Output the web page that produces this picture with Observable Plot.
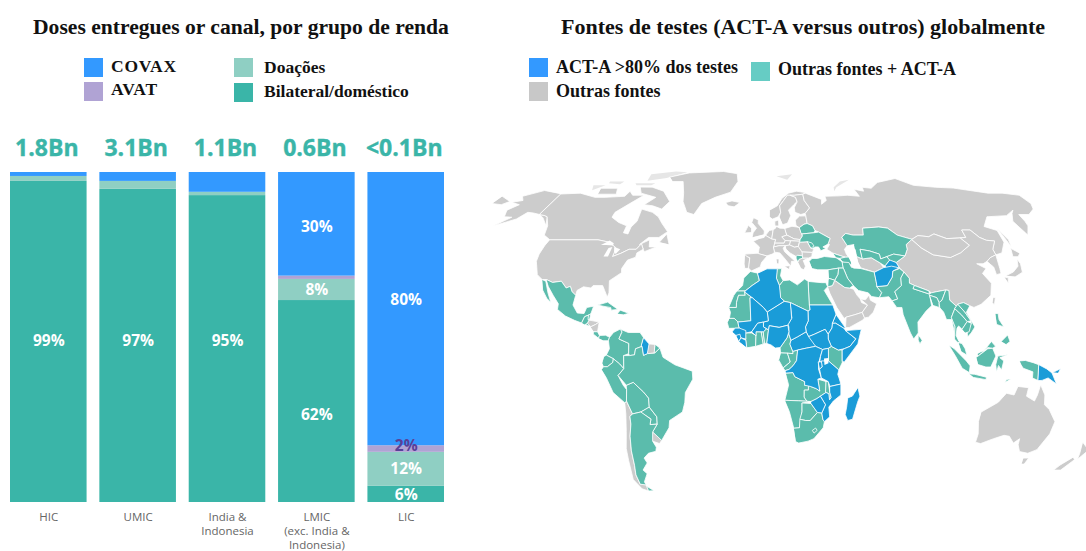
<!DOCTYPE html>
<html><head><meta charset="utf-8">
<script src="https://cdn.jsdelivr.net/npm/d3@7"></script>
<script src="https://cdn.jsdelivr.net/npm/@observablehq/plot@0.6"></script>
<style>
html,body{margin:0;padding:0;background:#fff}
#root{position:relative;width:1086px;height:551px;overflow:hidden;font-family:"Liberation Serif",serif;font-weight:bold;color:#111}
#root>div{position:absolute;white-space:nowrap}
.t{line-height:24px}
.l{line-height:20px}
.s{width:19px;height:19px}
#bars,#map{line-height:0}
</style></head><body><div id="root"></div>
<script>
// ---- Bars ----
const groups = ["HIC","UMIC","India &\nIndonesia","LMIC\n(exc. India &\nIndonesia)","LIC"];
const totals = ["1.8Bn","3.1Bn","1.1Bn","0.6Bn","<0.1Bn"];
const channels = ["Bilateral/doméstico","Doações","AVAT","COVAX"];
const channelColors = ["#3ab5a8","#8fcfc3","#b0a3d4","#3399ff"];
const bilateral = [97.3,94.9,93,61.2,4.9];
const doacoes   = [1.5,2.4,1,6.4,10.3];
const avat      = [0,0,0,1,2];
const covax     = [1.2,2.7,6,31.4,82.8];
const shareLabels  = ["99%","97%","95%","62%","8%","30%","6%","12%","2%","80%"];
const shareGroups  = [0,1,2,3,3,3,4,4,4,4];
const shareHeights = [48.8,49,49,26.4,64.5,83.6,2.4,10,17,61.5];

// ---- Map: outlines as flat lists of longitude, latitude ----
const grayAmericas = [
[-141,69.6,-156,71.3,-166,68.5,-162,66.5,-168,65.6,-161,64.5,-165,62,-162,59,-157,58.8,-163,55,-153,58,-150,61,-146,60.7,-141,60,-137,58.5,-131,55,-135,59,-137,59.5,-141,60],
[-180,68.5,-170,66,-173,64.5,-180,65],
[-141,69.6,-128,70,-115,68,-108,68,-95,68.5,-94,71,-90,69,-82,69,-88,65,-94,61,-94,58.8,-88,56.5,-82,55,-82,52,-79,51.5,-79,54.5,-77,57,-78,62.5,-70,61,-65,59,-61,56,-56,52.5,-60,50,-66,50,-70,47,-65,49,-64,46,-60,46,-66,44,-67,45,-69,47.3,-71,45,-75,45,-79,43.3,-83,42,-82.5,45.5,-88,48,-95,49,-123,49,-128,51,-130,55,-135,59,-137,59.5,-141,60],
[-80,73,-70,71,-62,66,-65,62.5,-72,64,-78,64.5,-73,68,-85,70,-89,73],
[-117,72.5,-105,72.5,-102,69.5,-115,69.5],[-59,48,-56,51.5,-53,47],
[-123,49,-95,49,-88,48,-82.5,45.5,-83,42,-79,43.3,-75,45,-71,45,-69,47.3,-67,45,-70,43.5,-70,41.7,-74,40.5,-76,37,-75.5,35.3,-81,32,-80,27,-80.5,25.2,-82.5,28,-84,30,-89,30,-90,29,-94,29.5,-97,28,-97.2,26,-99.5,27.5,-101,29.7,-103,29,-106.5,31.8,-111,31.3,-114.8,32.5,-117.1,32.5,-120.5,34.5,-124,40,-124.5,43,-124,46.5],
[-89.3,14.4,-88.5,15.8,-83.2,15,-85,14,-87.5,13],
[-87.5,13,-85,14,-83.2,15,-83.7,11,-85.7,11],
[-57.2,6,-54,5.8,-54.4,2.2,-58,2],
[-57.6,-30.2,-53.5,-33.7,-54.9,-35,-58.4,-34],
[-70.4,-18.3,-69.5,-17.5,-67,-22.8,-68.5,-24,-68.5,-27,-70,-32,-71,-38,-71.5,-44,-72.5,-48,-72,-52,-68.6,-52.3,-68.6,-54.9,-72,-54,-75,-50,-74,-42,-73.5,-37,-71.5,-30,-70.5,-23],
[-73,78.5,-60,81,-32,82,-20,80.5,-18,76,-22,70.5,-32,68,-40,65,-43,60,-48,61,-53,66,-55,70,-60,76,-68,76]
];
const faintArctic = [
[-90,80,-72,82,-62,81.5,-75,78,-88,76.5],[-125,74,-116,74,-122,71.5],[-95,75,-80,75,-82,74,-93,74],[-116,76,-105,76,-106,74.5,-115,75],[12,79,25,80,20,77],[52,71,55,73,68,77,60,76,53,73]
];
const grayEurope = [
[-24,65.5,-20,66.3,-14.5,65.5,-18,63.5,-22,64],[-10,52,-8,55.2,-6,54,-6,52.2],
[-5.5,50,1.5,51.3,1.7,52.8,-2,56,-2,57.6,-5,58.6,-6,56.5,-3,54,-5,52],
[5,59,7,58,10.5,59,12.3,61,12,64,15,66.5,18,69,23,69,29,69.5,31,70.3,25,71,19,70,14,67.5,10.5,64,5.2,62],
[11.2,59,13,55.5,16,56.2,18.5,59.5,17.5,62,21.5,64.5,24,66,23.5,68,20,69,18,69,15,66.5,12,64,12.3,61],
[24,66,21.5,63,21.5,61,25,60,28,60.6,31.5,63,29,66.5,29,69.5,23,69,20,69,23.5,68],
[-9.3,43,-8,42,-6.5,41.5,-7,37.2,-9,37,-9.5,38.8],
[-9.3,43,-1.8,43.4,3.2,42.3,0,39.5,-0.7,37.7,-5.5,36,-7,37.2,-6.5,41.5,-8,42],
[-1.8,43.4,3.2,42.3,6,43,7.5,43.8,7,46,8.2,49,6,49.5,2.5,51,1.5,50,-1.5,49.5,-4.7,48.4,-1.2,46],
[2.5,51,6,49.5,7,53.3,4.7,53],
[6,49.5,8.2,49,7.6,47.6,13,47.6,13.8,48.7,12.1,50.3,15,51,14.2,53.9,11,54,9,54.8,8.5,54,7,53.3],
[8.2,55,8.2,57,10.6,57.6,10.5,55],
[7,46,7.6,47.6,13,47.6,13.8,48.7,17,48.6,16.2,46.8,13.7,46.5,10,46.5],
[7,46,7.5,43.8,10.3,43.5,12.5,41.5,16,38,16.5,40,18.5,40,13,44,12.3,45.5,13.7,46.5,10,46.5],
[12.5,38,15.6,38.2,15,36.7],[8.2,41,9.7,41,9.5,39,8.5,39],
[14.2,53.9,18.5,54.8,23,54.3,24,50.7,22.5,49.1,19,49.4,15,51],
[12.1,50.3,15,51,19,49.4,22.5,49.1,22,48.4,17,48.6,13.8,48.7],
[17,48.6,22,48.4,21,46.2,18.8,45.9,16.2,46.8],
[21,46.2,22,48,26.6,48.2,28.2,45.5,29.6,45,28.6,43.7,22.8,43.9],
[22.8,43.9,28.6,43.7,28,42,26,41.3,22.8,41.3],
[13.7,46.5,16.2,46.8,18.8,45.9,21,46.2,22.8,43.9,22.8,42.3,20,42.5,19.3,42,16,43.5,14,45],
[20,39.7,20.9,40.9,22.8,41.3,26,41.3,23,40.3,24,38,23,36.5,21.5,37],
[21,55.2,23,54.3,26,55.7,28,56,28,59.4,24,59.3,21,57.5]
];
const grayAsia = [
[28,60.6,31.5,63,29,66.5,29,69.5,31,70,41,67,40,64.7,44,66.5,44,68.5,54,68.7,60,69,68,68.5,67,72,73,71,74,73,80,72.5,88,75.5,105,77.7,113,74,128,73,140,72.6,160,70,170,70,180,69,180,65,177,62.5,170,60,163.5,60,163,57,162,55,157,51,155.5,57,160,60.5,163,62,155,59.5,142,59,135,54.7,141,53,140,48,135,43.5,131,42.7,131,45,135,48.5,130.5,48.8,127.5,50,125,53.2,120,53.2,119.5,50,116,49.8,108,49.5,102,51.5,98,50.3,92,50.8,87.5,49.2,80,51,76,54,71,54.5,61,54,60,51,54,51,50,51.7,47,50,49,46.5,47,45,47.5,43,48.5,41.8,46.5,41.7,40,43.4,37,45,39,47,38.2,47.2,40,49.6,34,52.3,32,53,31,55,28,56,28,59.4],
[53,42,56,41,61,41.5,65,39.4,66.5,37.4,61,35.5,54,37.3,53,39.5],
[35,29.5,37.5,30,39,32.2,44,29.2,46.5,29,48.5,28.5,50,26,51.5,24.5,52,23,55,22,52,19,48,18,43.5,17,42.5,16.5,39,21,36,26.5],
[43,12.8,45,12.8,52,15.8,53,16.7,52,19,48,18,43.5,17],
[56.3,26,56.7,24,59.8,22.5,57.7,19,55,17,53,16.7,52,19,55,22,51.5,24.5,54,24.2],
[75,37.3,74,39.5,80,42.2,82.5,45,83,47,87.5,49.2,91,45.5,96,42.7,105,41.6,112,43.6,119,46.7,116,49.8,119.5,50,120,53.2,125,53.2,127.5,50,130.5,48.8,135,48.5,131,45,131,42.7,127,41.5,124.3,40,121.5,39,118,39,122,37,119,35,122,31,120,26,114,22.3,110,21,108,21.7,105,23,102,22.4,101,21.5,98,24,98.5,28,97,28.2,92,27.5,89,27,88,27.8,81,30,78.5,31,79,33,77,35.5],
[87.5,49.2,92,50.8,98,50.3,102,51.5,108,49.5,116,49.8,119,46.7,112,43.6,105,41.6,96,42.7,91,45.5],
[124.3,40,127,41.5,131,42.7,129.5,37,129,35,126.3,34.5,126.5,37.5],
[131,34,136,35.6,140,38,141.5,41,142,39,140.8,35.5,136,33.6],[140,42,141.5,45.4,145,43.4,143,42],[130,33.5,132,33.2,131,31],
[142,54,143.5,49,142.5,46,142,50],[121,25.2,122,25,120.8,22,120,23]
];
const grayOceania = [
[114,-22,113.5,-26,115,-31,115,-34.5,118,-35,124,-33,129,-31.6,132,-32,135.5,-34.8,138,-33,138.5,-35.5,141,-38.3,146,-39,150,-37.5,153,-31,153.5,-26,149,-21,146,-19,145.3,-15,142.5,-10.8,141.5,-15,140.5,-17.5,136,-15.5,136.5,-12,131,-11.5,129.5,-15,125.5,-14.3,122,-18],
[145,-41,148,-41,147.5,-43.5,146,-43.5],[172.7,-34.5,178.3,-37.7,175.5,-41.5,174.5,-39],[172.5,-40.7,174,-41.7,170.5,-46,166.5,-46,168,-44]
];
const tealAmericas = [
[-114.8,32.5,-111,31.3,-106.5,31.8,-103,29,-101,29.7,-99.5,27.5,-97.2,26,-97.8,22,-95,18.7,-91.5,18.5,-90.5,21,-87,21.5,-88,18.3,-89,17.9,-91,17.2,-92.2,14.6,-96,15.7,-101,17.5,-105.5,20.2,-105.5,22.5,-109,26,-112.5,29.5],
[-117.1,32.5,-114.8,31.8,-112,27,-109.5,23,-112,24.8,-115,28],
[-92.2,14.6,-91,17.2,-89,17.9,-88.5,15.9,-89.3,14.4,-90.5,13.9],[-89,17.9,-88,18.3,-88.3,16,-88.9,16],
[-90,13.8,-89.3,14.4,-87.8,13.4],[-85.7,11,-83.7,11,-82.6,9.5,-83,8.3,-85.7,10],
[-83,8.3,-82.6,9.5,-79.5,9.6,-77.4,8.7,-77.9,7.3,-80.5,7.3],
[-85,22,-80,23.2,-74.2,20.2,-77.7,19.9,-78,20.8],[-74.4,18.4,-73,19.9,-68.4,18.6,-71,18],
[-77.4,8.7,-75.5,10.7,-72,12.2,-71.3,11,-72.5,8,-67.5,6.2,-67.5,2,-70,1.2,-70,-4.2,-72,-2.3,-75.2,-0.1,-78.8,1.4,-77.3,4,-77.9,7.3],
[-71.3,11,-72,12,-68,10.7,-62,10.7,-60,8.5,-61,5.2,-60.7,5,-64,4,-64.5,1.5,-67,1.2,-67.5,2,-67.5,6.2,-72.5,8],
[-54,5.8,-51.6,4.2,-54.4,2.2],
[-80,0.8,-78.8,1.4,-75.2,-0.1,-75.5,-1.6,-78.3,-3.4,-80.3,-3.4,-81,-2],
[-81.3,-4.5,-80.3,-3.4,-78.3,-3.4,-75.5,-1.6,-75.2,-0.1,-72,-2.3,-70,-4.2,-73,-7,-70.6,-11,-69,-12.8,-69.5,-17.5,-70.4,-18.3,-76,-14,-79,-8],
[-69,-11,-65.4,-9.8,-60.5,-13.7,-58,-16.3,-58,-20,-62.6,-22,-67,-22.8,-69.5,-17.5,-69,-12.8],
[-62.6,-22,-58,-20,-54.5,-24,-54.7,-27,-58.5,-27.2,-57.7,-25],
[-51.6,4.2,-50,0.5,-44,-2.6,-35.2,-5.2,-35,-8.5,-39,-14,-39.5,-18,-41,-22,-48,-25.5,-48.7,-28.5,-53.5,-33.7,-57.6,-30.2,-54.7,-27,-54.5,-24,-58,-20,-58,-16.3,-60.5,-13.7,-65.4,-9.8,-69,-11,-73,-7,-70,-4.2,-70,1.2,-67,1.2,-64.5,1.5,-64,4,-60.7,5,-59.9,1.3,-58,2,-54.4,2.2],
[-67,-22.8,-62.6,-22,-57.7,-25,-58.5,-27.2,-54.7,-27,-57.6,-30.2,-58.4,-34,-57,-36.5,-57.7,-38.2,-62,-39,-65,-41,-64,-43,-67.5,-46,-65.8,-47.5,-69,-51,-68.4,-53,-65.2,-54.8,-68.6,-54.9,-68.6,-52.3,-72,-52,-72.5,-48,-71.5,-44,-71,-38,-70,-32,-68.5,-27,-68.5,-24]
];
const tealEurasia = [
[19.3,42,20,42.5,22.8,42.3,22.8,41.3,20.9,40.9,20,39.7,19.3,41],
[23,54.3,23.5,52,24,51.5,31,52,32,53,31,55,28,56,26,55.7],
[24,50.7,24,51.5,31,52,34,52.3,40,49.6,38.2,47.2,35,46,36.5,45.3,33.5,44.4,32.5,46,30.5,46,28.8,45.3,28.2,45.5,26.6,48.2,22,48,22.5,49.1],
[26.6,48.2,29,47.7,30,46.4,28.2,45.5],
[26.3,40,28,41.2,31,41.2,35,42,41.5,41.5,44.5,39.7,44.5,37.2,42,37.2,36.2,36.5,30.5,36.5,27.5,37],
[40,43.4,46.5,41.7,43.5,41.2,41.5,41.5],[43.5,41.2,46.5,41.7,48.5,41.8,50,40.4,49,38.5,44.7,39.7],
[50,51.7,54,51,60,51,61,54,71,54.5,76,54,80,51,87.5,49.2,83,47,82.5,45,80,42.2,74,43,70,42,66,41,66,43,61,44.3,56,45,56,41,53,42,53,45,51,45,53,47,49,46.5,47,50],
[56,45,61,44.3,66,43,66,41,70,42,71,40.5,67.5,38,65,39.4,61,41.5,56,41],
[70,42,74,43,80,42.2,74,39.5,71,40.3],
[44.5,39.7,48,39.5,49,37.5,54,37,61,35.5,61,31.5,61,29.6,63,27,61.5,25,57.5,25.5,56,27,51,28,48.5,30,47.7,31,46,33,44.5,37.2],
[42,37.2,44.5,37.2,46,33,47.7,31,48.5,30,46.5,29,44,29.2,39,32.2,41,34.5],
[36.2,36.5,42,37.2,41,34.5,39,32.2,36,33],[36,33,39,32.2,37.5,30,35,29.5,35.5,32],
[61,29.6,66.5,30,70,33.5,71,36,75,37,77,35.5,74.5,33,74,30,70,27.5,71,24.5,68,23.7,66.5,25.4,61.5,25,63,27],
[77,35.5,79,33,78.5,31,81,30,80,28.7,88,26.5,89,27,92,27.5,97,28.2,94,24,92.3,23,91.5,25,88,26,88.2,21.7,85,19.5,80.2,15,80,10.5,77.5,8,76,10.5,73,18,72.7,21,70,21,68,23.7,71,24.5,70,27.5,74,30,74.5,33],
[81,30,88,27.8,88,26.5,80,28.7],[88,26,91.5,25,92.3,23,92,21,89,21.8],[80,9.7,81.8,7.5,80.6,6,79.8,7.5],
[92.3,21,92.3,23,94,24,97,28.2,98.5,28,98,24,101,21.5,100,20.5,97.7,17,99,13,98.5,10,97.7,16,95,16,94,19],
[97.7,17,100,20.5,103,18,105.5,15.2,102.5,12,100.9,13.4,100,12.5,99.2,9.5,100.5,7,102,6.2,99.7,6.7,98.3,8,99,13],
[101,21.5,102,22.4,105,19,107.5,15.5,105.5,15.2,103,18,100,20.5],
[102,22.4,105,23,108,21.7,105.7,19,109.2,13,107,10.5,105,8.8,105,10.5,107.5,14.5,107.5,15.5,105,19],
[102.5,12,105.5,15.2,107.5,14.5,106,11,104,10.5],
[100.2,6.5,102,6.2,103.5,4,104.3,1.4,101.5,2.8],[109.6,2,111.5,2.8,113,3.2,117,7,119,5,117.5,4.2,115,4.5,110,1],
[109,0.5,110,1,115,4,117.5,4.2,119,1,116.5,-3.5,114,-3.5,110,-2.5],
[95.3,5.5,98,4,104,-1,106,-3,105.7,-5.8,102,-4,98.5,1],[105.5,-6.3,108.5,-6.5,114.5,-7.7,114.4,-8.7,108,-7.8],
[119.5,-5.5,119,-2.5,120,1,125,1.5,121,0.3,123,-1,122,-4.7,120.5,-3],
[120.5,18.5,122,18.5,122,16,124,13,120.5,14],[122,7,125.5,9.7,126.5,7,124.5,5.8],
[131,-1,134,-0.8,138,-1.7,141,-2.6,141,-9.1,138,-8,138,-5.5,133,-4,132,-2.8],[124,-9.9,127,-8.4,125,-8.6]
];
const tealAfrica = [
[-5.9,35.8,-2,35.1,-1.2,32,-5,30,-8.7,27.7,-13,27.7,-10,30,-9.5,33],
[-8.7,27.7,-13,27.7,-14.5,26,-17,21,-13,21,-13,23,-12,26,-8.7,26],
[-8.7,27.3,-8.7,26,-12,26,-13,23,-13,21,-17,21,-16,19,-16.5,16.5,-14,16.5,-12,15,-5.5,15.5,-6,25,-4.8,25],
[8.6,36.9,11,37,10.2,34,11.5,32,9.5,30,8,33],
[9.5,30,11.5,32,15,32.3,19,30.3,23,32.7,25,31.7,25,20,24,19.5,15,23,12,23.5,10,25],
[25,31.7,32,31.2,34.2,31.2,34.9,29.5,33,28,37,22,25,22],
[34,4.2,35.5,5,39,3.5,41,3.5,41,-1.7,39.3,-4.7,34,-1,34,1],
[-16.5,16.5,-14,16.5,-12,15,-11.3,12.5,-16.7,12.4,-17.5,14.7],
[-8,10.5,-5,10.5,-2.8,9.5,-3,5,-7.5,4.4,-8,7.5],[-2.8,11,0,11,1,6,-3,5,-2.8,9.5],[0,11,1,11,1.7,6.2,1,6],[1,11,2.5,12.2,3.6,11.8,2.7,6.3,1.7,6.2],
[9.5,4.5,13,8.5,14,11,14,13,14,10,15,7.5,14.5,6,16,3,16,2,9.8,2.3],
[9.8,2.3,13.3,2.2,14.5,-1.5,11,-3.9,8.8,-0.7],
[13.3,2.2,16,2,16,3,18.5,3.5,17.7,-1,16,-3,14,-4.5,12,-5,11,-3.9,14.5,-1.5],
[12.3,-6,16,-5.8,17,-7.5,22,-9.5,22,-11,24,-11,24,-13,22,-13,22,-16,23.4,-17.6,19,-17.4,12,-17.2,13.8,-11],
[22,-13,24,-13,24,-11,25,-11.5,28,-12.4,29.8,-13.4,28.7,-8.5,33,-9.5,33,-14,30.2,-15.5,28.5,-16.5,25.5,-17.7,23.4,-17.6,22,-16],
[33,-9.5,34,-9.5,35,-14,35.8,-16,35,-17,34.5,-14.5,33,-14],
[12,-17.2,19,-17.4,23.4,-17.6,25,-17.8,21,-18.3,21,-22,20,-28.5,17,-28.7,14.5,-22],
[21,-18.3,25.5,-18.5,29,-22.2,25.5,-25.5,23,-25.5,20,-25,21,-22],
[17,-28.7,20,-28.5,20,-25,23,-25.5,25.5,-25.5,29,-22.2,31.3,-22.4,32,-25,32.9,-26,32.5,-28.5,28,-33,25,-34,20,-34.8,18.4,-34.2],
[27,-29.5,28.5,-28.6,29.4,-29.6,28,-30.6]
];
const blueAreas = [
[-60,8.5,-57.2,6,-58,2,-59.9,1.3,-60.7,5,-61,5.2],
[-2,35.1,3,36.9,8.6,36.9,8,33,9.5,30,10,25,12,23.5,3,19,1,21,-4.8,25,-8.7,27.3,-8.7,27.7,-5,30,-1.2,32],
[25,22,37,22,38.5,18,36.5,14.5,36,12.5,34,10,32.5,12,27,10,24,9,22.8,11,22.5,13,24,15.5,24,19.5,25,20],
[38.5,18,43,12.5,42,12.5,38,14.5,36.5,14.5],
[36.5,14.5,38,14.5,42,12.5,43,11.5,48,8,45,5,42,4,39,3.5,35.5,5,34,8,34,10,36,12.5],
[43,11.5,51,12,49,6,42,-1.5,41,-1,41,3.5,42,4,45,5,48,8],
[24,9,27,10,32.5,12,34,10,34,8,35.5,5,34,4.2,31,3.7,27.5,5,25,6.5],
[14.5,6,15,7.5,18.5,9,22.8,11,24,9,27.5,5,23,4.3,18.5,3.5,16,3],
[15,23,24,19.5,24,15.5,22.5,13,22.8,11,18.5,9,15,7.5,14,10,14,13,13.5,14,15.5,16.5],
[12,23.5,15,23,15.5,16.5,13.5,13.7,9,12.8,4,13.5,3.6,11.8,1,13,1,15,3.5,15.5,3,19],
[-12,15,-5.5,15.5,-6,25,-4.8,25,1,21,3,19,3.5,15.5,1,15,-2,14.5,-5,11,-8,10.5,-11.3,12.5],
[-15,11,-13.5,12.5,-11.3,12.5,-8,11.5,-8,8,-10.5,8.5,-13,9.5],[-13,9.5,-11,10,-10.5,8.5,-11.5,7],[-11.5,7,-10.5,8.5,-8,7.5,-7.5,4.4],
[-5,11,-2,14.5,1,15,1,13,2.5,12.2,1,11,-2.8,11,-2.8,9.5],
[2.7,6.3,3.6,11.8,4,13.5,9,12.8,13.5,13.7,14,11,13,8.5,9.5,4.5,7,4.3,5,5.5],
[18.5,3.5,23,4.3,27.5,5,31,3.7,30,1,29.2,-1.4,29,-4.4,30.5,-8,28.7,-8.5,29.8,-13.4,28,-12.4,25,-11.5,22,-11,22,-9.5,17,-7.5,16,-5.8,12.3,-6,12,-5,14,-4.5,16,-3,17.7,-1],
[30,1,31,3.7,34,4.2,34,1,34,-1,29.7,-1.4],[29,-1.4,30.8,-1.4,30.8,-3.5,29.5,-4.4],
[30.5,-1,34,-1,39.3,-4.7,38.8,-6.5,39.5,-8,40.5,-10.5,35,-11.5,34,-9.5,30.5,-8,29.5,-4.4,30.8,-3.5],
[35,-11.5,40.5,-10.5,40.7,-15,37,-17.5,34.8,-20,35.5,-24,32.9,-26,32,-25,31.3,-22.4,33,-19,30.2,-15.5,33,-14,34.5,-14.5,35,-17,35.8,-16,35,-14],
[25.5,-17.7,28.5,-16.5,30.2,-15.5,33,-19,31.3,-22.4,29,-22.2,25.5,-18.5],
[49.3,-12,50.5,-15.5,49.5,-18,47.5,-25,45,-25.5,43.5,-23,44,-20,44.3,-16.2,46.5,-15.5],
[71,40.5,74,39.5,75,37.3,68,37.2,67.5,38],
[61,35.5,66.5,37.4,71,38,75,37.3,71,36,70,33.5,66.5,30,61,29.6,61,31.5],
[141,-2.6,145,-4.3,147.8,-6,150.5,-10.5,146,-8,143,-9,141,-9.1],[148,-5.8,152,-4.2,151,-6]
];
const lakes = [
[-92,46.8,-88,48.7,-85,47.5,-85,46.6,-89,46.8],[-88,42,-85.5,42,-85,46,-87,45.6],[-84,46,-80,45,-81.7,43,-83,44],
[47,45,53,47,53,40,54,37,50,37,49,40],[31.7,0,34,0.2,34,-2,32,-2.7]
];
const robinsonLength = [1,.9986,.9954,.99,.9822,.973,.96,.9427,.9216,.8962,.8679,.835,.7986,.7597,.7186,.6732,.6213,.5722,.5322];
const robinsonDepth  = [0,.062,.124,.186,.248,.31,.372,.434,.4958,.5571,.6176,.6769,.7346,.7903,.8435,.8936,.9394,.9761,1];

// ---- Text ----
const title1 = "Doses entregues or canal, por grupo de renda";
const title2 = "Fontes de testes (ACT-A versus outros) globalmente";
const legend1 = [["COVAX","#3399ff",84,58,111,56,.8],["AVAT","#b0a3d4",84,82,111,79,.8],["Doações","#8fcfc3",234,58,264,57,0],["Bilateral/doméstico","#3ab5a8",234,83,264,81,0]];
const legend2 = [["ACT-A >80% dos testes","#3399ff",529,58,556,57,0],["Outras fontes","#c8c8c8",529,82,556,81,0],["Outras fontes + ACT-A","#66ccc4",751,62,778,59,0]];

// ---- Assembly ----
const root = document.getElementById("root");
function addText(txt,cls,x,y,size,spacing){const d=document.createElement("div");d.className=cls;d.textContent=txt;d.style.left=x+"px";d.style.top=y+"px";d.style.fontSize=size+"px";if(spacing)d.style.letterSpacing=spacing+"px";root.appendChild(d);}
addText(title1,"t",33,15,21.6);
addText(title2,"t",561,15,22);
for (const [list,size] of [[legend1,17.5],[legend2,18]]) for (const [name,color,sx,sy,tx,ty,sp] of list) {
  const s=document.createElement("div");s.className="s";s.style.left=sx+"px";s.style.top=sy+"px";s.style.background=color;root.appendChild(s);
  addText(name,"l",tx,ty,size,sp);
}

const series = [bilateral,doacoes,avat,covax];
const rows = channels.flatMap((channel,c)=>groups.map((group,g)=>({group,channel,value:series[c][g]})));
const totalRows = groups.map((group,g)=>({group,total:totals[g]}));
const shareRows = shareLabels.map((label,i)=>({label,group:groups[shareGroups[i]],at:shareHeights[i]}));

const bars = Plot.plot({
  width:460,height:421,marginLeft:10,marginRight:16,marginTop:42,marginBottom:49,
  style:{background:"transparent",overflow:"visible"},
  x:{domain:groups,paddingInner:0.143,paddingOuter:0,align:0.5,round:false,label:null},
  y:{domain:[0,100],axis:null},
  color:{domain:channels,range:channelColors},
  marks:[
    Plot.barY(rows,{x:"group",y:"value",fill:"channel",order:channels}),
    Plot.text(shareRows,{x:"group",y:"at",text:"label",
      fill:{value:d=>d.label==="2%"?"#5b3f98":"#ffffff",scale:null},
      fontFamily:"Open Sans",fontWeight:"bold",fontSize:15.5}),
    Plot.text(totalRows,{x:"group",frameAnchor:"top",dy:-24,dx:-2,text:"total",lineAnchor:"middle",fill:"#3ab5a8",stroke:"#3ab5a8",strokeWidth:0.4,fontFamily:"Open Sans",fontWeight:"bold",fontSize:23}),
    Plot.axisX({anchor:"bottom",tickSize:0,tickPadding:8,fontSize:11.5,fontFamily:"Open Sans",fontWeight:"normal",color:"#666",lineHeight:1.24,label:null,textOverflow:null})
  ]
});
bars.id="bars";
const barsWrap=document.createElement("div");barsWrap.style.left="0px";barsWrap.style.top="130px";barsWrap.appendChild(bars);root.appendChild(barsWrap);

function lerp(table,deg){const a=Math.min(Math.abs(deg),89.999)/5,i=Math.floor(a),t=a-i;return table[i]+(table[i+1]-table[i])*t;}
function robinsonRaw(lam,phi){const deg=phi*180/Math.PI;return [lam*180/Math.PI*lerp(robinsonLength,deg),Math.sign(deg)*lerp(robinsonDepth,deg)*99.5];}
const projection=d3.geoProjection(robinsonRaw).scale(1.97).translate([281,208]).precision(0);

function toFeature(flat){
  const ring=[];for(let i=0;i<flat.length;i+=2)ring.push([flat[i],flat[i+1]]);
  ring.push(ring[0].slice());
  let f={type:"Feature",properties:{},geometry:{type:"Polygon",coordinates:[ring]}};
  if(d3.geoArea(f)>2*Math.PI)f.geometry.coordinates=[ring.slice().reverse()];
  return f;
}
const geoStroke={stroke:"#ffffff",strokeWidth:0.8,strokeLinejoin:"round"};
const map = Plot.plot({
  width:606,height:360,margin:0,projection,
  style:{background:"transparent"},
  marks:[
    Plot.geo(faintArctic.map(toFeature),{fill:"#e6e6e6"}),
    Plot.geo([...grayAmericas,...grayEurope,...grayAsia,...grayOceania].map(toFeature),{fill:"#cccccc",...geoStroke}),
    Plot.geo([...tealAmericas,...tealEurasia,...tealAfrica].map(toFeature),{fill:"#5bbcac",...geoStroke}),
    Plot.geo(blueAreas.map(toFeature),{fill:"#1a9cd8",...geoStroke}),
    Plot.geo(lakes.map(toFeature),{fill:"#ffffff"})
  ]
});
map.id="map";
const mapWrap=document.createElement("div");mapWrap.style.left="480px";mapWrap.style.top="150px";mapWrap.appendChild(map);root.appendChild(mapWrap);
</script></body></html>
